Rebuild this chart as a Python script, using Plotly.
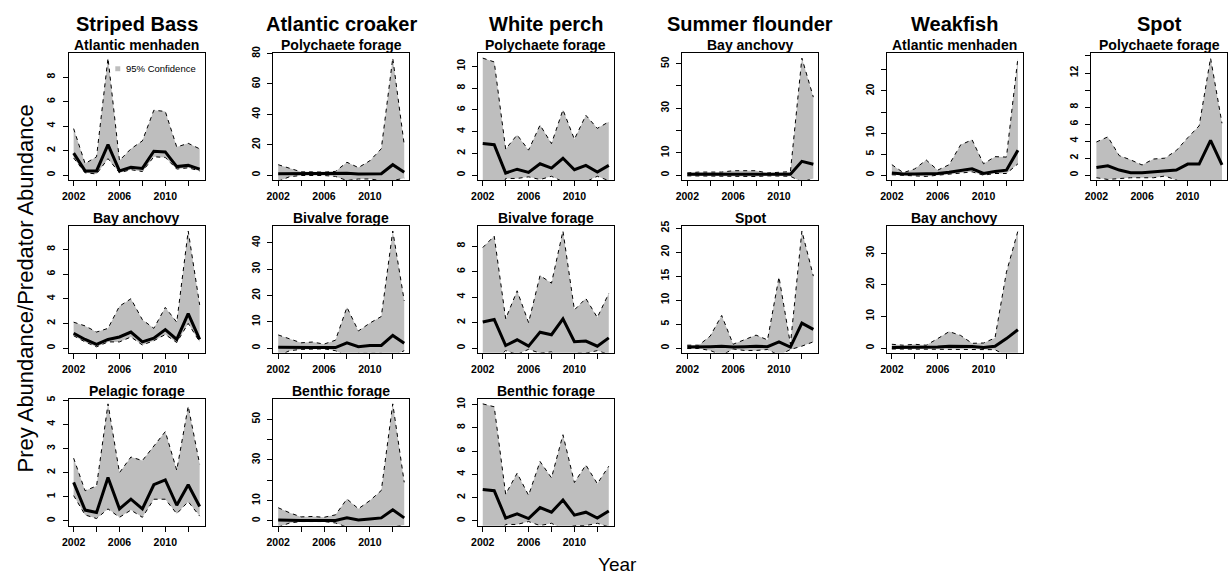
import plotly.graph_objects as go

# ---------------------------------------------------------------------------
# Data: yearly prey abundance / predator abundance with 95% confidence bounds
# ---------------------------------------------------------------------------
years = list(range(2002, 2014))

x_tick_vals = [2002, 2004, 2006, 2008, 2010, 2012]
x_tick_text = ["2002", "", "2006", "", "2010", ""]

predators = ["Striped Bass", "Atlantic croaker", "White perch",
             "Summer flounder", "Weakfish", "Spot"]

# Striped Bass - Atlantic menhaden
sb_menhaden_mean = [1.8, 0.35, 0.35, 2.5, 0.35, 0.65, 0.55, 1.95, 1.9, 0.7, 0.8, 0.5]
sb_menhaden_lower = [1.4, 0.2, 0.1, 1.35, 0.2, 0.45, 0.3, 1.5, 1.45, 0.5, 0.6, 0.35]
sb_menhaden_upper = [3.8, 0.95, 1.5, 9.55, 1.2, 2.15, 2.8, 5.3, 5.2, 2.3, 2.6, 2.15]

# Atlantic croaker - Polychaete forage
ac_poly_mean = [0.9, 0.9, 0.9, 0.9, 0.9, 0.9, 1.3, 0.8, 1.0, 1.0, 6.9, 2.0]
ac_poly_lower = [-4, -1, -0.2, -0.2, -0.2, -0.8, -3.5, -2.5, -2.5, -3.5, -3.5, -2]
ac_poly_upper = [6.9, 4.5, 2.2, 2.2, 2.0, 2.5, 8.5, 5.0, 9.5, 17.4, 77, 20]

# White perch - Polychaete forage
wp_poly_mean = [2.9, 2.8, 0.2, 0.55, 0.25, 1.05, 0.65, 1.55, 0.5, 0.9, 0.3, 0.9]
wp_poly_lower = [-3, -3, -0.3, -0.3, -0.15, -0.4, -0.1, -0.6, -0.5, -0.6, -0.1, -0.5]
wp_poly_upper = [10.75, 10.4, 2.4, 3.7, 2.3, 4.6, 2.9, 6.0, 3.3, 5.5, 4.3, 4.9]

# Summer flounder - Bay anchovy
sf_anchovy_mean = [0.4, 0.4, 0.4, 0.4, 0.4, 0.4, 0.4, 0.4, 0.4, 0.4, 6.2, 4.9]
sf_anchovy_lower = [-0.3, -0.4, -0.4, -0.4, -0.6, -0.6, -0.6, -0.3, -0.4, -0.5, -3, -1.5]
sf_anchovy_upper = [1.0, 1.4, 1.4, 1.4, 2.0, 2.0, 2.0, 1.0, 1.4, 1.6, 52.5, 35]

# Weakfish - Atlantic menhaden
wf_menhaden_mean = [0.5, 0.3, 0.3, 0.3, 0.4, 0.7, 1.1, 1.5, 0.4, 0.9, 1.2, 5.9]
wf_menhaden_lower = [0.1, 0.0, -0.1, -0.3, 0.0, 0.2, 0.5, 0.8, 0.0, 0.4, 0.4, 2.7]
wf_menhaden_upper = [2.5, 0.6, 1.5, 3.6, 1.2, 2.5, 7.2, 8.4, 2.7, 4.4, 4.3, 27.8]

# Spot - Polychaete forage
sp_poly_mean = [0.9, 1.1, 0.6, 0.3, 0.3, 0.4, 0.5, 0.6, 1.3, 1.3, 4.1, 1.2]
sp_poly_lower = [-0.3, -0.5, -0.4, -0.3, -0.3, -0.3, -0.1, -0.6, -1.0, -1.5, -2.0, -1.0]
sp_poly_upper = [3.9, 4.5, 2.3, 1.8, 1.2, 1.9, 2.0, 2.9, 4.4, 5.8, 13.75, 6.1]

# Striped Bass - Bay anchovy
sb_anchovy_mean = [1.2, 0.7, 0.3, 0.7, 0.9, 1.3, 0.5, 0.8, 1.5, 0.7, 2.8, 0.7]
sb_anchovy_lower = [1.0, 0.5, 0.1, 0.5, 0.5, 0.9, 0.25, 0.6, 1.1, 0.45, 2.0, 0.5]
sb_anchovy_upper = [2.1, 1.8, 1.3, 1.6, 3.4, 4.0, 2.3, 1.6, 3.3, 2.1, 9.5, 3.5]

# Atlantic croaker - Bivalve forage
ac_bivalve_mean = [0.3, 0.2, 0.2, 0.2, 0.2, 0.2, 2.0, 0.5, 1.0, 1.0, 4.8, 1.8]
ac_bivalve_lower = [-3, -1, -0.5, -0.3, -0.3, -1, -3, -2, -2, -2, -3, -1]
ac_bivalve_upper = [5.0, 3.5, 2.0, 2.3, 1.5, 3.0, 15.5, 6.5, 9.5, 12.0, 44.5, 18.0]

# White perch - Bivalve forage
wp_bivalve_mean = [2.05, 2.25, 0.2, 0.65, 0.15, 1.25, 1.05, 2.3, 0.5, 0.55, 0.15, 0.8]
wp_bivalve_lower = [-1, -1, -0.2, -0.5, -0.1, -0.4, -0.3, -0.8, -0.4, -0.4, -0.2, -0.5]
wp_bivalve_upper = [7.9, 8.8, 2.3, 4.5, 2.0, 5.7, 5.1, 9.2, 3.0, 3.9, 2.4, 4.3]

# Summer flounder - Spot
sf_spot_mean = [0.2, 0.2, 0.3, 0.4, 0.2, 0.3, 0.4, 0.3, 1.3, 0.2, 5.2, 3.9]
sf_spot_lower = [-0.1, -0.1, -0.5, -1.5, -0.2, -0.5, -0.5, -0.3, -1.5, -0.3, 0.4, 1.3]
sf_spot_upper = [0.6, 0.6, 2.5, 6.8, 0.8, 1.8, 2.7, 1.7, 14.8, 0.8, 24.4, 15.0]

# Weakfish - Bay anchovy
wf_anchovy_mean = [0.2, 0.2, 0.2, 0.2, 0.3, 0.6, 0.6, 0.5, 0.2, 0.6, 3.0, 5.8]
wf_anchovy_lower = [-0.3, -0.3, -0.3, -0.3, -0.4, -0.5, -0.4, -0.3, -0.3, -0.5, -2.5, -1.5]
wf_anchovy_upper = [1.2, 0.9, 1.2, 0.9, 3.0, 5.2, 4.0, 1.5, 1.6, 3.2, 24.0, 37.0]

# Striped Bass - Pelagic forage
sb_pelagic_mean = [1.6, 0.45, 0.35, 1.8, 0.5, 0.9, 0.5, 1.5, 1.7, 0.65, 1.5, 0.6]
sb_pelagic_lower = [1.05, 0.25, 0.1, 0.5, 0.15, 0.45, 0.15, 0.9, 0.9, 0.3, 0.8, 0.2]
sb_pelagic_upper = [2.6, 1.25, 1.45, 4.85, 2.0, 2.65, 2.5, 3.1, 3.7, 2.1, 4.75, 2.35]

# Atlantic croaker - Benthic forage
ac_benthic_mean = [0.5, 0.2, 0.2, 0.2, 0.2, 0.2, 1.5, 0.5, 1.0, 1.5, 5.5, 1.5]
ac_benthic_lower = [-3, -1, -0.3, -0.3, -0.3, -1, -3, -3, -3, -3, -3, -2]
ac_benthic_upper = [6.5, 4.0, 2.0, 2.2, 1.8, 3.0, 10.8, 6.0, 10.0, 15.0, 57.6, 19.0]

# White perch - Benthic forage
wp_benthic_mean = [2.7, 2.6, 0.25, 0.6, 0.2, 1.15, 0.75, 1.8, 0.5, 0.75, 0.25, 0.85]
wp_benthic_lower = [-2, -2, -0.3, -0.3, -0.05, -0.4, -0.2, -0.7, -0.4, -0.4, -0.2, -0.5]
wp_benthic_upper = [10.05, 9.8, 2.3, 4.1, 2.2, 5.1, 3.7, 7.4, 3.3, 4.8, 3.2, 4.7]

# Panel layout: (row, col, prey title, mean, lower, upper, y ticks, y tick labels)
panels = [
    (0, 0, "Atlantic menhaden", sb_menhaden_mean, sb_menhaden_lower, sb_menhaden_upper,
     [0, 2, 4, 6, 8], ["0", "2", "4", "6", "8"]),
    (0, 1, "Polychaete forage", ac_poly_mean, ac_poly_lower, ac_poly_upper,
     [0, 20, 40, 60, 80], ["0", "20", "40", "60", "80"]),
    (0, 2, "Polychaete forage", wp_poly_mean, wp_poly_lower, wp_poly_upper,
     [0, 2, 4, 6, 8, 10], ["0", "2", "4", "6", "8", "10"]),
    (0, 3, "Bay anchovy", sf_anchovy_mean, sf_anchovy_lower, sf_anchovy_upper,
     [0, 10, 20, 30, 40, 50], ["0", "10", "", "30", "", "50"]),
    (0, 4, "Atlantic menhaden", wf_menhaden_mean, wf_menhaden_lower, wf_menhaden_upper,
     [0, 5, 10, 15, 20, 25], ["0", "5", "10", "", "20", ""]),
    (0, 5, "Polychaete forage", sp_poly_mean, sp_poly_lower, sp_poly_upper,
     [0, 2, 4, 6, 8, 10, 12, 14], ["0", "2", "4", "6", "8", "", "12", ""]),
    (1, 0, "Bay anchovy", sb_anchovy_mean, sb_anchovy_lower, sb_anchovy_upper,
     [0, 2, 4, 6, 8], ["0", "2", "4", "6", "8"]),
    (1, 1, "Bivalve forage", ac_bivalve_mean, ac_bivalve_lower, ac_bivalve_upper,
     [0, 10, 20, 30, 40], ["0", "10", "20", "30", "40"]),
    (1, 2, "Bivalve forage", wp_bivalve_mean, wp_bivalve_lower, wp_bivalve_upper,
     [0, 2, 4, 6, 8], ["0", "2", "4", "6", "8"]),
    (1, 3, "Spot", sf_spot_mean, sf_spot_lower, sf_spot_upper,
     [0, 5, 10, 15, 20, 25], ["0", "5", "10", "15", "20", "25"]),
    (1, 4, "Bay anchovy", wf_anchovy_mean, wf_anchovy_lower, wf_anchovy_upper,
     [0, 10, 20, 30], ["0", "10", "20", "30"]),
    (2, 0, "Pelagic forage", sb_pelagic_mean, sb_pelagic_lower, sb_pelagic_upper,
     [0, 1, 2, 3, 4, 5], ["0", "1", "2", "3", "4", "5"]),
    (2, 1, "Benthic forage", ac_benthic_mean, ac_benthic_lower, ac_benthic_upper,
     [0, 10, 20, 30, 40, 50], ["0", "10", "", "30", "", "50"]),
    (2, 2, "Benthic forage", wp_benthic_mean, wp_benthic_lower, wp_benthic_upper,
     [0, 2, 4, 6, 8, 10], ["0", "2", "4", "6", "8", "10"]),
]

# ---------------------------------------------------------------------------
# Geometry (pixels) of the 3 x 6 grid of plot boxes
# ---------------------------------------------------------------------------
W, H = 1228, 577
COL_X0, COL_STEP, BOX_W = 62, 205.9, 137
ROW_Y0, ROW_STEP, BOX_H = 47, 175, 128

FONT = "Liberation Sans, Arial, Helvetica, sans-serif"
BAND = "#BEBEBE"
tick_font = dict(family=FONT, size=10.5, color="black", weight="bold")

fig = go.Figure()
layout_axes = {}
annotations = []
shapes = []

for i, (row, col, prey, mean, lower, upper, yt, ytt) in enumerate(panels, start=1):
    left = COL_X0 + col * COL_STEP
    right = min(left + BOX_W, W)
    top = ROW_Y0 + row * ROW_STEP
    bottom = top + BOX_H
    sfx = "" if i == 1 else str(i)
    xa, ya = "x" + sfx, "y" + sfx

    # confidence band
    fig.add_trace(go.Scatter(
        x=years + years[::-1], y=upper + lower[::-1],
        mode="lines", fill="toself", fillcolor=BAND,
        line=dict(width=0, color="rgba(0,0,0,0)"),
        hoverinfo="skip", showlegend=False, xaxis=xa, yaxis=ya))
    # dashed bounds
    for bound in (lower, upper):
        fig.add_trace(go.Scatter(
            x=years, y=bound, mode="lines",
            line=dict(color="black", width=1, dash="4px,4px"),
            hoverinfo="skip", showlegend=False, xaxis=xa, yaxis=ya))
    # mean ratio
    fig.add_trace(go.Scatter(
        x=years, y=mean, mode="lines",
        line=dict(color="black", width=3),
        hoverinfo="skip", showlegend=False, xaxis=xa, yaxis=ya))

    m = max(upper)
    layout_axes["xaxis" + sfx] = dict(
        domain=[left / W, right / W], anchor=ya,
        range=[2002 - 0.44, 2013 + 0.44],
        tickmode="array", tickvals=x_tick_vals, ticktext=x_tick_text,
        ticks="outside", ticklen=5, tickwidth=1, tickcolor="black",
        showline=True, mirror=True, linecolor="black", linewidth=1,
        showgrid=False, zeroline=False, tickfont=tick_font,
        ticklabelstandoff=2, fixedrange=True)
    layout_axes["yaxis" + sfx] = dict(
        domain=[1 - bottom / H, 1 - top / H], anchor=xa,
        range=[-0.04 * m, 1.04 * m],
        tickmode="array", tickvals=yt, ticktext=ytt, tickangle=-90,
        ticks="outside", ticklen=5, tickwidth=1, tickcolor="black",
        showline=True, mirror=True, linecolor="black", linewidth=1,
        showgrid=False, zeroline=False, tickfont=tick_font,
        ticklabelstandoff=3, fixedrange=True)

    # prey title on top of the box
    annotations.append(dict(
        text=prey, x=(left + BOX_W / 2) / W, y=1 - top / H,
        xref="paper", yref="paper", xanchor="center", yanchor="bottom",
        yshift=-2, showarrow=False,
        font=dict(family=FONT, size=14, color="black", weight="bold")))

# predator column headings
for col, name in enumerate(predators):
    cx = COL_X0 + col * COL_STEP + BOX_W / 2
    annotations.append(dict(
        text=name, x=cx / W, y=1 - 17.5 / H, xref="paper", yref="paper",
        xanchor="center", yanchor="middle", showarrow=False,
        font=dict(family=FONT, size=20, color="black", weight="bold")))

# outer axis titles
annotations.append(dict(
    text="Prey Abundance/Predator Abundance", x=19 / W, y=1 - 285 / H,
    xref="paper", yref="paper", xanchor="center", yanchor="middle",
    textangle=-90, showarrow=False,
    font=dict(family=FONT, size=22, color="black")))
annotations.append(dict(
    text="Year", x=615 / W, y=1 - 564 / H,
    xref="paper", yref="paper", xanchor="center", yanchor="middle",
    showarrow=False, font=dict(family=FONT, size=19, color="black")))

# legend key inside the first panel
shapes.append(dict(
    type="rect", xref="paper", yref="paper",
    x0=109 / W, x1=114 / W, y0=1 - 65 / H, y1=1 - 60 / H,
    fillcolor=BAND, line=dict(width=0)))
annotations.append(dict(
    text="95% Confidence", x=118 / W, y=1 - 62.5 / H,
    xref="paper", yref="paper", xanchor="left", yanchor="middle",
    showarrow=False, font=dict(family=FONT, size=9.5, color="black")))

fig.update_layout(
    width=W, height=H,
    margin=dict(l=0, r=0, t=0, b=0),
    paper_bgcolor="white", plot_bgcolor="white",
    showlegend=False, hovermode=False,
    annotations=annotations, shapes=shapes,
    **layout_axes)

fig.write_html("out.html", config={"displayModeBar": False})
